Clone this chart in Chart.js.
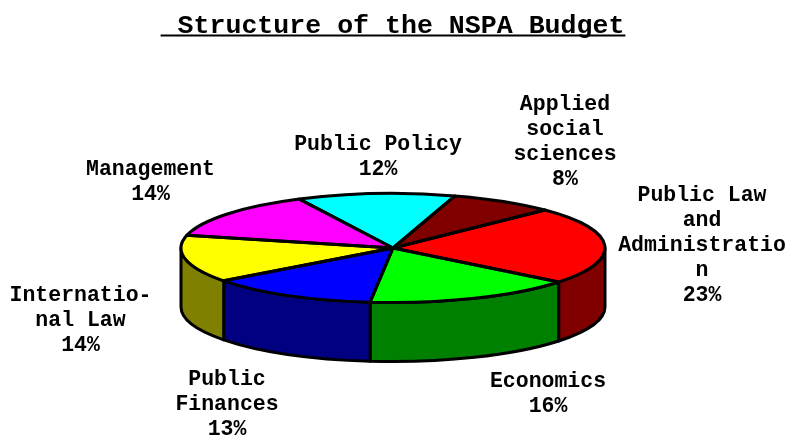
<!DOCTYPE html>
<html>
<head>
<meta charset="utf-8">
<title>Structure of the NSPA Budget</title>
<script src="https://cdn.jsdelivr.net/npm/chart.js@4"></script>
<style>
  html, body { margin: 0; padding: 0; background: #ffffff; }
  canvas { display: block; }
</style>
</head>
<body>
<canvas id="budget" width="786" height="435"></canvas>
<script>
// Budget shares, clockwise from the slice right of the top of the pie
const categories = ["Applied social sciences", "Public Law and Administration", "Economics",
  "Public Finances", "International Law", "Management", "Public Policy"];
const shares = [8, 23, 16, 13, 14, 14, 12];
const topColors = ["#800000", "#ff0000", "#00ff00", "#0000ff", "#ffff00", "#ff00ff", "#00ffff"];
const sideColors = ["#400000", "#800000", "#008000", "#000080", "#808000", "#800080", "#008080"];

// Wrapped caption lines for each slice
const captionLines = [
  ["Applied", "social", "sciences"],
  ["Public Law", "and", "Administratio", "n"],
  ["Economics"],
  ["Public", "Finances"],
  ["Internatio-", "nal Law"],
  ["Management"],
  ["Public Policy"]
];
// Horizontal centre and first-line centre of each caption
const captionCenterX = [565, 702, 548, 227, 80.5, 150.5, 378];
const captionTopY = [105, 196, 382, 380, 296, 170, 145];
const captionLineStep = 25;

const titleText = " Structure of the NSPA Budget";
const fontFamily = "'Liberation Mono', 'Courier New', monospace";

// Tilted-disc geometry
const discCenterX = 393;
const discCenterY = 248;
const discRadius = 212;
const tilt = 54.5 / 212;
const wallDepth = 59;
const edgeWidth = 3;

function tracePie(ctx, a, b) {
  ctx.beginPath();
  ctx.moveTo(discCenterX, discCenterY);
  ctx.ellipse(discCenterX, discCenterY, discRadius, discRadius * tilt, 0, a, b);
  ctx.closePath();
}

function drawWall(ctx, a, b, color) {
  const ry = discRadius * tilt;
  ctx.beginPath();
  ctx.ellipse(discCenterX, discCenterY, discRadius, ry, 0, a, b);
  ctx.ellipse(discCenterX, discCenterY + wallDepth, discRadius, ry, 0, b, a, true);
  ctx.closePath();
  ctx.fillStyle = color;
  ctx.fill();
  ctx.stroke();
}

const tiltedPie = {
  id: "tiltedPie",
  beforeDatasetsDraw(chart) {
    const ctx = chart.ctx;
    const arcs = chart.getDatasetMeta(0).data;
    const TAU = Math.PI * 2;

    // Walls are only visible on the near half of the disc
    ctx.save();
    ctx.strokeStyle = "#000000";
    ctx.lineWidth = edgeWidth;
    ctx.lineJoin = "round";
    arcs.forEach((arc, i) => {
      const p = arc.getProps(["startAngle", "endAngle"], true);
      const start = ((p.startAngle % TAU) + TAU) % TAU;
      const end = start + (p.endAngle - p.startAngle);
      [0, TAU].forEach(offset => {
        const a = Math.max(start, offset);
        const b = Math.min(end, offset + Math.PI);
        if (b > a) drawWall(ctx, a, b, sideColors[i]);
      });
    });
    ctx.restore();

    // The library fills its slices inside this squashed space
    const c = arcs[0].getProps(["x", "y"], true);
    ctx.save();
    ctx.translate(discCenterX, discCenterY);
    ctx.scale(1, tilt);
    ctx.translate(-c.x, -c.y);
  },
  afterDatasetsDraw(chart) {
    const ctx = chart.ctx;
    ctx.restore();

    // Slice outlines keep an even width, so they are stroked outside the squash
    ctx.save();
    ctx.strokeStyle = "#000000";
    ctx.lineWidth = edgeWidth;
    ctx.lineJoin = "round";
    chart.getDatasetMeta(0).data.forEach(arc => {
      const p = arc.getProps(["startAngle", "endAngle"], true);
      tracePie(ctx, p.startAngle, p.endAngle);
      ctx.stroke();
    });
    ctx.restore();

    // Captions: wrapped name plus the percentage on its own line
    ctx.save();
    ctx.fillStyle = "#000000";
    ctx.font = "bold 21.5px " + fontFamily;
    ctx.textAlign = "center";
    ctx.textBaseline = "middle";
    categories.forEach((name, i) => {
      const lines = captionLines[i].concat(shares[i] + "%");
      lines.forEach((line, n) => {
        ctx.fillText(line, captionCenterX[i], captionTopY[i] + n * captionLineStep);
      });
    });
    ctx.restore();
  },
  afterDraw(chart) {
    // Underline below the title, spanning its leading space too
    const ctx = chart.ctx;
    ctx.save();
    ctx.font = "bold 26.6px " + fontFamily;
    const w = ctx.measureText(titleText).width + 2;
    ctx.fillStyle = "#000000";
    ctx.fillRect(393 - w / 2, 34.5, w, 2);
    ctx.restore();
  }
};

new Chart(document.getElementById("budget"), {
  type: "pie",
  data: {
    labels: categories,
    datasets: [{
      data: shares,
      backgroundColor: topColors,
      borderWidth: 0,
      hoverOffset: 0,
      clip: false
    }]
  },
  options: {
    responsive: false,
    animation: false,
    events: [],
    rotation: 17,
    radius: discRadius,
    plugins: {
      legend: { display: false },
      tooltip: { enabled: false },
      title: {
        display: true,
        text: titleText,
        color: "#000000",
        font: { family: fontFamily, size: 26.6, weight: "bold" },
        padding: { top: 10, bottom: 4 }
      }
    }
  },
  plugins: [tiltedPie]
});
</script>
</body>
</html>
